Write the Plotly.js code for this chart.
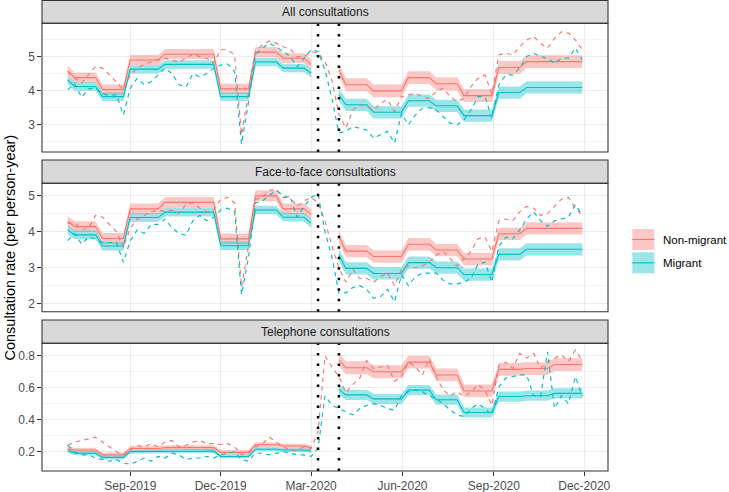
<!DOCTYPE html>
<html>
<head>
<meta charset="utf-8">
<script src="https://cdn.plot.ly/plotly-3.0.1.min.js"></script>
<style>html,body{margin:0;padding:0;background:#fff;}#chart{width:729px;height:492px;}</style>
</head>
<body>
<div id="chart"></div>
<script>
// ---------------- DATA ----------------
const firstWeek = '2019-06-30';
const nWeeks = 75;
const lockStart = '2020-03-08';   // first dotted line
const lockEnd = '2020-03-29';     // second dotted line
const groups = ['Non-migrant', 'Migrant'];
const panelTitles = ['All consultations', 'Face-to-face consultations', 'Telephone consultations'];
const xTickVals = ['2019-09-01', '2019-12-01', '2020-03-01', '2020-06-01', '2020-09-01', '2020-12-01'];
const xTickText = ['Sep-2019', 'Dec-2019', 'Mar-2020', 'Jun-2020', 'Sep-2020', 'Dec-2020'];

// model periods (month; 2020-03L = post-lockdown part of March)
const fitPeriods = ['2019-06','2019-07','2019-08','2019-09','2019-10','2019-11','2019-12','2020-01','2020-02','2020-03',
  '2020-03L','2020-04','2020-05','2020-06','2020-07','2020-08','2020-09','2020-10','2020-11'];

// All consultations
const obsAllNon = [4.56,4.36,4.22,4.46,4.71,4.66,4.46,4.26,4.02,4.46,4.66,4.77,4.85,4.9,4.95,4.9,4.83,4.95,5.07,5.0,
  4.95,4.8,5.2,5.2,5.05,2.7,3.9,5.15,5.34,5.46,5.39,5.29,5.22,5.0,5.0,5.15,5.1,4.85,4.3,3.3,
  2.9,3.43,3.58,3.53,3.43,3.63,3.73,3.38,3.82,3.87,3.92,3.82,3.77,3.97,4.07,3.82,3.67,3.77,4.12,4.36,
  4.46,3.9,5.05,5.1,5.05,5.29,5.49,5.59,5.39,5.25,5.54,5.73,5.69,5.49,5.2];
const obsAllMig = [4.02,4.2,3.8,4.05,4.08,3.9,3.85,3.88,3.28,4.07,4.36,4.17,4.26,4.46,4.66,4.5,4.17,4.1,4.5,4.4,
  4.5,4.65,4.75,4.78,4.56,2.42,3.65,5.05,5.25,5.39,5.29,5.15,5.0,4.7,4.95,5.2,5.15,4.6,3.77,2.75,
  2.8,2.94,2.89,2.84,2.6,2.7,2.8,2.45,3.33,2.99,3.28,3.48,3.5,3.43,3.24,3.04,2.99,3.14,3.43,3.82,
  3.82,3.19,4.17,4.46,4.46,4.66,5.0,5.1,5.0,4.95,4.8,4.95,4.95,5.25,4.9];
const fitAllNon = [4.58,4.38,4.03,4.9,5.07,5.07,4.05,5.13,4.95,4.77,4.6,4.17,3.99,4.38,4.2,3.85,4.68,4.85,4.85];
const fitAllMig = [4.31,4.12,3.82,4.63,4.77,4.77,3.82,4.84,4.66,4.51,3.87,3.58,3.36,3.7,3.55,3.26,3.94,4.09,4.09];
const ciAllNon = [0.15, 0.19];   // half-width pre / post
const ciAllMig = [0.125, 0.18];

// Face-to-face consultations
const obsF2fNon = [4.23,4.25,4.05,4.1,4.45,4.4,4.2,4.0,3.55,4.1,4.35,4.45,4.55,4.6,4.55,4.6,4.5,4.75,4.8,4.65,
  4.55,4.6,4.9,4.95,4.8,2.47,3.6,4.9,4.95,5.15,5.15,5.0,4.95,4.7,4.85,4.95,4.8,4.3,3.6,3.0,
  2.6,2.95,2.7,2.7,2.6,2.75,2.85,2.5,2.95,3.05,3.0,3.05,3.15,3.35,3.45,3.25,3.05,3.25,3.45,3.8,
  3.85,3.45,4.3,4.35,4.3,4.55,4.7,4.65,4.45,4.5,4.7,4.9,4.95,4.65,4.45];
const obsF2fMig = [3.75,3.95,3.65,3.85,3.8,3.7,3.7,3.7,3.15,3.75,4.05,3.95,4.2,4.2,4.35,4.1,3.95,3.9,4.3,4.45,
  4.3,4.4,4.6,4.65,4.55,2.25,3.3,4.8,4.85,5.0,5.15,4.95,4.95,4.4,4.7,4.95,5.05,4.0,3.3,2.3,
  2.3,2.45,2.5,2.4,2.15,2.2,2.4,2.05,2.8,2.5,2.75,2.85,2.85,2.85,2.65,2.55,2.55,2.6,2.7,3.1,
  3.15,2.6,3.6,3.85,3.8,4.05,4.35,4.55,4.3,4.15,4.3,4.35,4.4,4.75,4.45];
const fitF2fNon = [4.28,4.14,3.81,4.63,4.81,4.81,3.8,4.99,4.63,4.48,3.86,3.46,3.31,3.65,3.49,3.24,3.94,4.09,4.09];
const fitF2fMig = [4.05,3.91,3.6,4.39,4.54,4.54,3.61,4.6,4.4,4.23,3.35,2.98,2.84,3.14,3.0,2.81,3.37,3.51,3.51];
const ciF2fNon = [0.15, 0.17];
const ciF2fMig = [0.12, 0.17];

// Telephone consultations
const obsTelNon = [0.24,0.26,0.27,0.28,0.29,0.26,0.23,0.2,0.18,0.21,0.24,0.23,0.25,0.23,0.26,0.27,0.23,0.24,0.26,0.27,
  0.25,0.25,0.245,0.25,0.23,0.18,0.19,0.23,0.25,0.29,0.26,0.23,0.21,0.21,0.23,0.22,0.325,0.8,0.73,0.67,
  0.57,0.62,0.66,0.77,0.72,0.73,0.74,0.64,0.67,0.76,0.73,0.68,0.78,0.67,0.585,0.55,0.575,0.545,0.575,0.62,
  0.585,0.49,0.74,0.76,0.72,0.815,0.785,0.815,0.72,0.765,0.785,0.805,0.765,0.835,0.77];
const obsTelMig = [0.24,0.2,0.18,0.18,0.16,0.15,0.14,0.15,0.13,0.12,0.14,0.16,0.14,0.17,0.16,0.19,0.18,0.15,0.16,0.16,
  0.17,0.16,0.18,0.19,0.2,0.15,0.14,0.19,0.19,0.18,0.19,0.2,0.19,0.18,0.18,0.17,0.22,0.55,0.49,0.47,
  0.45,0.43,0.47,0.49,0.5,0.49,0.47,0.46,0.55,0.575,0.585,0.575,0.55,0.53,0.5,0.46,0.43,0.42,0.47,0.5,
  0.47,0.43,0.605,0.66,0.67,0.68,0.68,0.55,0.545,0.825,0.47,0.55,0.5,0.67,0.545];
const fitTelNon = [0.217,0.21,0.18,0.22,0.225,0.225,0.195,0.243,0.235,0.225,0.775,0.725,0.70,0.76,0.68,0.58,0.715,0.72,0.745];
const fitTelMig = [0.206,0.19,0.163,0.2,0.204,0.204,0.17,0.215,0.21,0.204,0.59,0.555,0.53,0.585,0.525,0.445,0.545,0.55,0.565];
const ciTelNon = [0.015, 0.04];
const ciTelMig = [0.012, 0.032];

// y axes
const yRanges = [[2.19, 5.98], [1.78, 5.34], [0.079, 0.878]];
const yTicks = [[3, 4, 5], [2, 3, 4, 5], [0.2, 0.4, 0.6, 0.8]];
const yTickText = [['3', '4', '5'], ['2', '3', '4', '5'], ['0.2', '0.4', '0.6', '0.8']];
const yMinor = [[2.5, 3.5, 4.5, 5.5], [2.5, 3.5, 4.5], [0.1, 0.3, 0.5, 0.7]];

// ---------------- STYLE / LAYOUT ----------------
const W = 729, H = 492;
const M = {l: 42, r: 121, t: 0, b: 21};
const PW = W - M.l - M.r, PH = H - M.t - M.b;
const px2x = p => (p - M.l) / PW;
const px2y = p => (PH - (p - M.t)) / PH;
const RED = '#F8766D', TEAL = '#00BFC4';
const RED_F = 'rgba(248,118,109,0.4)', TEAL_F = 'rgba(0,191,196,0.4)';
const FONT = 'Liberation Sans, Arial, Helvetica, sans-serif';

// panel pixel extents [stripTop, plotTop, plotBottom]
const panelPx = [[0.5, 23.3, 152], [160, 183.3, 311.7], [320, 343.3, 471]];

const weeks = [];
for (let i = 0; i < nWeeks; i++) {
  const d = new Date(Date.UTC(2019, 5, 30 + 7 * i));
  weeks.push(d.toISOString().slice(0, 10));
}
function periodOf(d) {
  if (d >= lockStart && d < lockEnd) return null;
  if (d >= lockEnd && d.slice(0, 7) === '2020-03') return '2020-03L';
  return d.slice(0, 7);
}
function fitSeries(levels) {
  return weeks.map(d => { const p = periodOf(d); return p ? levels[fitPeriods.indexOf(p)] : null; });
}

const panels = [
  {obs: [obsAllNon, obsAllMig], fit: [fitAllNon, fitAllMig], ci: [ciAllNon, ciAllMig]},
  {obs: [obsF2fNon, obsF2fMig], fit: [fitF2fNon, fitF2fMig], ci: [ciF2fNon, ciF2fMig]},
  {obs: [obsTelNon, obsTelMig], fit: [fitTelNon, fitTelMig], ci: [ciTelNon, ciTelMig]}
];

const traces = [];
const lineCol = [RED, TEAL], fillCol = [RED_F, TEAL_F];
panels.forEach((pn, k) => {
  const xa = k === 0 ? 'x' : 'x' + (k + 1);
  const ya = k === 0 ? 'y' : 'y' + (k + 1);
  const fits = pn.fit.map(fitSeries);
  // ribbons
  for (let g = 0; g < 2; g++) {
    const segs = [weeks.map((d, i) => i).filter(i => weeks[i] < lockStart),
                  weeks.map((d, i) => i).filter(i => weeks[i] >= lockEnd)];
    segs.forEach((idx, s) => {
      const hw = pn.ci[g][s];
      const xs = idx.map(i => weeks[i]);
      const up = idx.map(i => fits[g][i] + hw);
      const lo = idx.map(i => fits[g][i] - hw);
      traces.push({x: xs.concat(xs.slice().reverse()), y: up.concat(lo.slice().reverse()),
        xaxis: xa, yaxis: ya, type: 'scatter', mode: 'lines', fill: 'toself', fillcolor: fillCol[g],
        line: {width: 0, color: 'rgba(0,0,0,0)'}, hoverinfo: 'skip', showlegend: false});
    });
  }
  // fitted lines
  for (let g = 0; g < 2; g++) {
    traces.push({x: weeks, y: fits[g], xaxis: xa, yaxis: ya, type: 'scatter', mode: 'lines',
      connectgaps: false, line: {color: lineCol[g], width: 1.1}, hoverinfo: 'skip', showlegend: false, name: groups[g]});
  }
  // observed dashed
  for (let g = 0; g < 2; g++) {
    traces.push({x: weeks, y: pn.obs[g], xaxis: xa, yaxis: ya, type: 'scatter', mode: 'lines',
      line: {color: lineCol[g], width: 1.15, dash: '4.5px,4.3px'}, hoverinfo: 'skip', showlegend: false, name: groups[g]});
  }
});

const xRange = ['2019-06-04 03:00', '2020-12-24 21:00'];
const layout = {
  width: W, height: H, margin: {l: M.l, r: M.r, t: M.t, b: M.b, autoexpand: false},
  paper_bgcolor: '#ffffff', plot_bgcolor: '#ffffff', showlegend: false,
  font: {family: FONT, size: 12, color: '#4d4d4d'},
  shapes: [], annotations: []
};
panelPx.forEach((pp, k) => {
  const sfx = k === 0 ? '' : String(k + 1);
  const dom = [px2y(pp[2]), px2y(pp[1])];
  layout['xaxis' + sfx] = {
    type: 'date', range: xRange, anchor: 'y' + sfx, domain: [0, 1],
    tickmode: 'array', tickvals: xTickVals, ticktext: xTickText,
    showgrid: true, gridcolor: '#ebebeb', gridwidth: 1.07, zeroline: false, showline: false,
    showticklabels: k === 2, ticks: k === 2 ? 'outside' : '', ticklen: 3.7, tickwidth: 1.07, tickcolor: '#333333',
    tickfont: {size: 12, color: '#4d4d4d', family: FONT}
  };
  layout['yaxis' + sfx] = {
    range: yRanges[k], anchor: 'x' + sfx, domain: dom,
    tickmode: 'array', tickvals: yTicks[k], ticktext: yTickText[k],
    showgrid: true, gridcolor: '#ebebeb', gridwidth: 1.07, zeroline: false, showline: false,
    ticks: 'outside', ticklen: 3.7, tickwidth: 1.07, tickcolor: '#333333',
    tickfont: {size: 12, color: '#4d4d4d', family: FONT},
    minor: {tickmode: 'array', tickvals: yMinor[k], showgrid: true, gridcolor: '#ebebeb', gridwidth: 0.55, ticks: ''}
  };
  // strip
  layout.shapes.push({type: 'rect', xref: 'paper', yref: 'paper', x0: 0, x1: 1, y0: px2y(pp[1]), y1: px2y(pp[0]),
    fillcolor: '#d9d9d9', line: {color: '#333333', width: 1.07}, layer: 'above'});
  layout.annotations.push({xref: 'paper', yref: 'paper', x: 0.5, y: (px2y(pp[1]) + px2y(pp[0])) / 2,
    text: panelTitles[k], showarrow: false, xanchor: 'center', yanchor: 'middle',
    font: {size: 12, color: '#1a1a1a', family: FONT}});
  // dotted lockdown lines
  [lockStart, lockEnd].forEach(d => {
    layout.shapes.push({type: 'line', xref: 'x' + sfx, yref: 'paper', x0: d, x1: d, y0: dom[0], y1: dom[1],
      line: {color: '#000000', width: 2.5, dash: '2.5px,8px'}, layer: 'above'});
  });
  // panel border
  layout.shapes.push({type: 'rect', xref: 'paper', yref: 'paper', x0: 0, x1: 1, y0: dom[0], y1: dom[1],
    fillcolor: 'rgba(0,0,0,0)', line: {color: '#333333', width: 1.07}, layer: 'above'});
});

// y-axis title
layout.annotations.push({xref: 'paper', yref: 'paper', x: px2x(9.5), y: px2y(248), textangle: -90,
  text: 'Consultation rate (per person-year)', showarrow: false, xanchor: 'center', yanchor: 'middle',
  font: {size: 14.5, color: '#000000', family: FONT}});

// legend (drawn manually)
const legKeys = [[229, 250], [252.3, 273.3]];
groups.forEach((g, i) => {
  const [t, b] = legKeys[i];
  layout.shapes.push({type: 'rect', xref: 'paper', yref: 'paper', x0: px2x(632.3), x1: px2x(654.3),
    y0: px2y(b), y1: px2y(t), fillcolor: fillCol[i], line: {width: 0}, layer: 'above'});
  layout.shapes.push({type: 'line', xref: 'paper', yref: 'paper', x0: px2x(632.3), x1: px2x(654.3),
    y0: px2y((t + b) / 2), y1: px2y((t + b) / 2), line: {color: lineCol[i], width: 1.1}, layer: 'above'});
  layout.annotations.push({xref: 'paper', yref: 'paper', x: px2x(661.5), y: px2y((t + b) / 2),
    text: g, showarrow: false, xanchor: 'left', yanchor: 'middle', borderpad: 0,
    font: {size: 11.5, color: '#000000', family: FONT}});
});

Plotly.newPlot('chart', traces, layout, {staticPlot: true, displayModeBar: false});
</script>
</body>
</html>
